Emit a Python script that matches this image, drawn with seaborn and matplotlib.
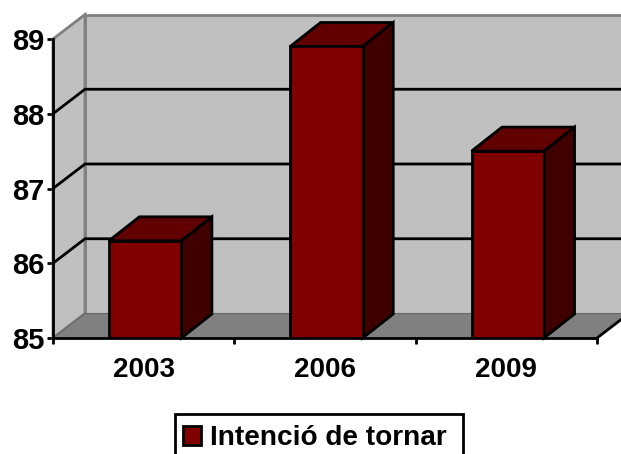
import matplotlib
matplotlib.use("Agg")
import matplotlib.pyplot as plt
from matplotlib.patches import Polygon, Patch, Rectangle
import seaborn as sns
import pandas as pd

years = ["2003", "2006", "2009"]
values = [86.3, 88.9, 87.5]
series_name = "Intenció de tornar"
y_ticks = [85, 86, 87, 88, 89]

FRONT, TOP, SIDE = "#800000", "#600000", "#400000"
WALL, FLOOR, EDGE = "#C0C0C0", "#808080", "#808080"
LW = 2.0
W, H = 621, 454
L, R, T, B = 53, 597, 39, 338

sns.set_theme(style="white")
plt.rcParams["font.family"] = ["Liberation Sans", "DejaVu Sans"]
plt.rcParams["font.weight"] = "bold"

fig = plt.figure(figsize=(W / 100, H / 100), dpi=100, facecolor="white")
ax = fig.add_axes([L / W, (H - B) / H, (R - L) / W, (B - T) / H])
ax.patch.set_alpha(0)

df = pd.DataFrame({"year": years, "value": values})
sns.barplot(data=df, x="year", y="value", color=FRONT, saturation=1, width=0.4,
            edgecolor="black", linewidth=LW, ax=ax, zorder=5)

shift = 0.008
x0, x1 = -0.5 - shift, 2.5 - shift
y0, y1 = y_ticks[0], y_ticks[-1]
ax.set_xlim(x0, x1)
ax.set_ylim(y0, y1)

# depth of the 3-D box and of the bars, as axis units
dx = 32 / ((R - L) / 3)
dy = 24.5 / ((B - T) / 4)
bdx = 30.5 / ((R - L) / 3)
bdy = 24 / ((B - T) / 4)


def poly(pts, fc, ec, z, lw=LW):
    ax.add_patch(Polygon(pts, closed=True, facecolor=fc, edgecolor=ec, linewidth=lw,
                         zorder=z, clip_on=False, joinstyle="miter"))


# back wall, side wall, floor
poly([(x0 + dx, y0 + dy), (x1 + dx, y0 + dy), (x1 + dx, y1 + dy), (x0 + dx, y1 + dy)], WALL, EDGE, 1)
poly([(x0, y0), (x0 + dx, y0 + dy), (x0 + dx, y1 + dy), (x0, y1)], WALL, EDGE, 1.1)
poly([(x0, y0), (x1, y0), (x1 + dx, y0 + dy), (x0 + dx, y0 + dy)], FLOOR, "#666666", 1.2, 0.8)
ax.plot([x1, x1 + dx], [y0, y0 + dy], color="black", lw=LW, zorder=1.3, clip_on=False)

# gridlines on the side and back walls
for t in y_ticks[1:-1]:
    ax.plot([x0, x0 + dx, x1 + dx], [t, t + dy, t + dy], color="black", lw=LW,
            zorder=2, clip_on=False, solid_joinstyle="miter")

# bar top and side faces
half = 0.2
for i, v in enumerate(values):
    a, b = i - half, i + half
    poly([(a, v), (b, v), (b + bdx, v + bdy), (a + bdx, v + bdy)], TOP, "black", 4)
    poly([(b, y0), (b + bdx, y0 + bdy), (b + bdx, v + bdy), (b, v)], SIDE, "black", 4)

ax.set_xlabel("")
ax.set_ylabel("")
ax.set_yticks(y_ticks)
ax.set_yticklabels([str(t) for t in y_ticks], fontsize=21, fontweight="bold", color="black")
ax.set_xticks([x0, x0 + 1, x0 + 2, x1])
ax.set_xticklabels([])
ax.set_xticks([-shift, 1 - shift, 2 - shift], minor=True)
ax.set_xticklabels(years, minor=True, fontsize=20, fontweight="bold", color="black")
ax.tick_params(axis="y", which="major", left=True, length=4, width=LW, color="black", pad=2)
ax.tick_params(axis="x", which="major", bottom=True, length=4, width=LW, color="black")
ax.tick_params(axis="x", which="minor", bottom=False, length=0, pad=13.5)
for name, sp in ax.spines.items():
    sp.set_visible(name in ("left", "bottom"))
    sp.set_color("black")
    sp.set_linewidth(LW)
    sp.set_zorder(6)

# legend box runs off the bottom of the picture, with its content set left of centre
fig.add_artist(Rectangle((175 / W, -6 / H), 288 / W, (H - 414 + 6) / H, transform=fig.transFigure,
                         facecolor="white", edgecolor="black", linewidth=LW, clip_on=False))
handle = Patch(facecolor=FRONT, edgecolor="black", linewidth=LW)
leg = fig.legend(handles=[handle], labels=[series_name], loc="upper center",
                 bbox_to_anchor=(315 / W, 1 - 411 / H), borderaxespad=0, frameon=False,
                 handlelength=0.65, handleheight=0.65, handletextpad=0.33, borderpad=0.5,
                 labelcolor="black", prop={"size": 20.2, "weight": "bold"})

fig.savefig("out.png", dpi=100)
